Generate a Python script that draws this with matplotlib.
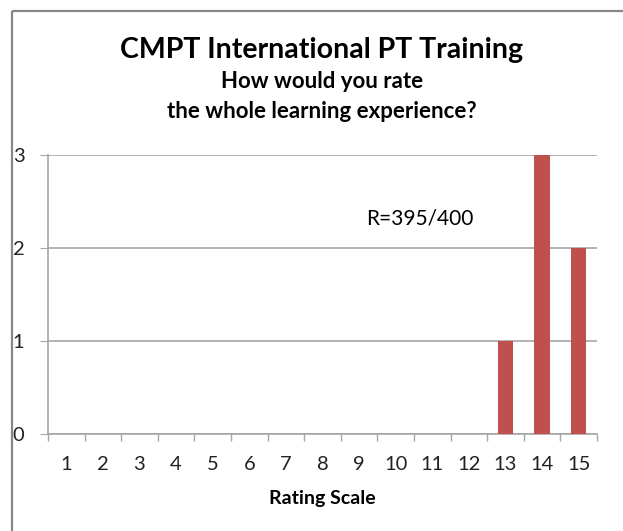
import matplotlib.pyplot as plt
from matplotlib.patches import Rectangle

# Data
ratings = list(range(1, 16))
counts = [0, 0, 0, 0, 0, 0, 0, 0, 0, 0, 0, 0, 1, 3, 2]
y_ticks = [0, 1, 2, 3]
note = 'R=395/400'

plt.rcParams['font.family'] = ['Lato', 'DejaVu Sans']

W, H = 623, 531
fig = plt.figure(figsize=(W / 100, H / 100), dpi=100)

# outer chart border (cut off at right and bottom in the original)
fig.patches.append(Rectangle((12 / W, 1 - 11 / H), 2, -2, transform=fig.transFigure,
                             fill=False, edgecolor='#878787', linewidth=1.6))

ax = fig.add_axes([48 / W, 1 - 434 / H, (597 - 48) / W, (434 - 155) / H])
ax.bar(ratings, counts, width=0.42, color='#C0504D', zorder=3)

ax.set_xlim(0.5, 15.5)
ax.set_ylim(0, 3)
ax.set_yticks(y_ticks)
ax.set_yticklabels([str(v) for v in y_ticks], fontsize=14.5, color='#222222')
ax.tick_params(axis='y', length=6, color='#a6a6a6', pad=11)
ax.yaxis.grid(True, color='#a6a6a6', linewidth=1.2, zorder=0)

# category labels in the middle, ticks on the boundaries
ax.set_xticks(ratings)
ax.set_xticklabels([str(r) for r in ratings], fontsize=14.5, color='#222222')
ax.tick_params(axis='x', which='major', length=0, pad=16)
ax.set_xticks([r + 0.5 for r in [0] + ratings], minor=True)
ax.tick_params(axis='x', which='minor', length=5, color='#a6a6a6', width=1)

for s in ['top', 'right']:
    ax.spines[s].set_visible(False)
ax.spines['left'].set_color('#a6a6a6')
ax.spines['bottom'].set_color('#a6a6a6')
ax.spines['left'].set_linewidth(1.2)
ax.spines['bottom'].set_linewidth(1.2)

ax.set_xlabel('Rating Scale', fontsize=14, fontweight='bold', labelpad=12)

ax.text(10.66, 2.32, note, fontsize=15, ha='center', va='center')

fig.text(322 / W, 1 - 50 / H, 'CMPT International PT Training', fontsize=20.5,
         fontweight='bold', ha='center', va='center')
fig.text(322 / W, 1 - 81 / H, 'How would you rate', fontsize=16,
         fontweight='bold', ha='center', va='center')
fig.text(322 / W, 1 - 111 / H, 'the whole learning experience?', fontsize=16,
         fontweight='bold', ha='center', va='center')

fig.savefig('out.png', dpi=100)
